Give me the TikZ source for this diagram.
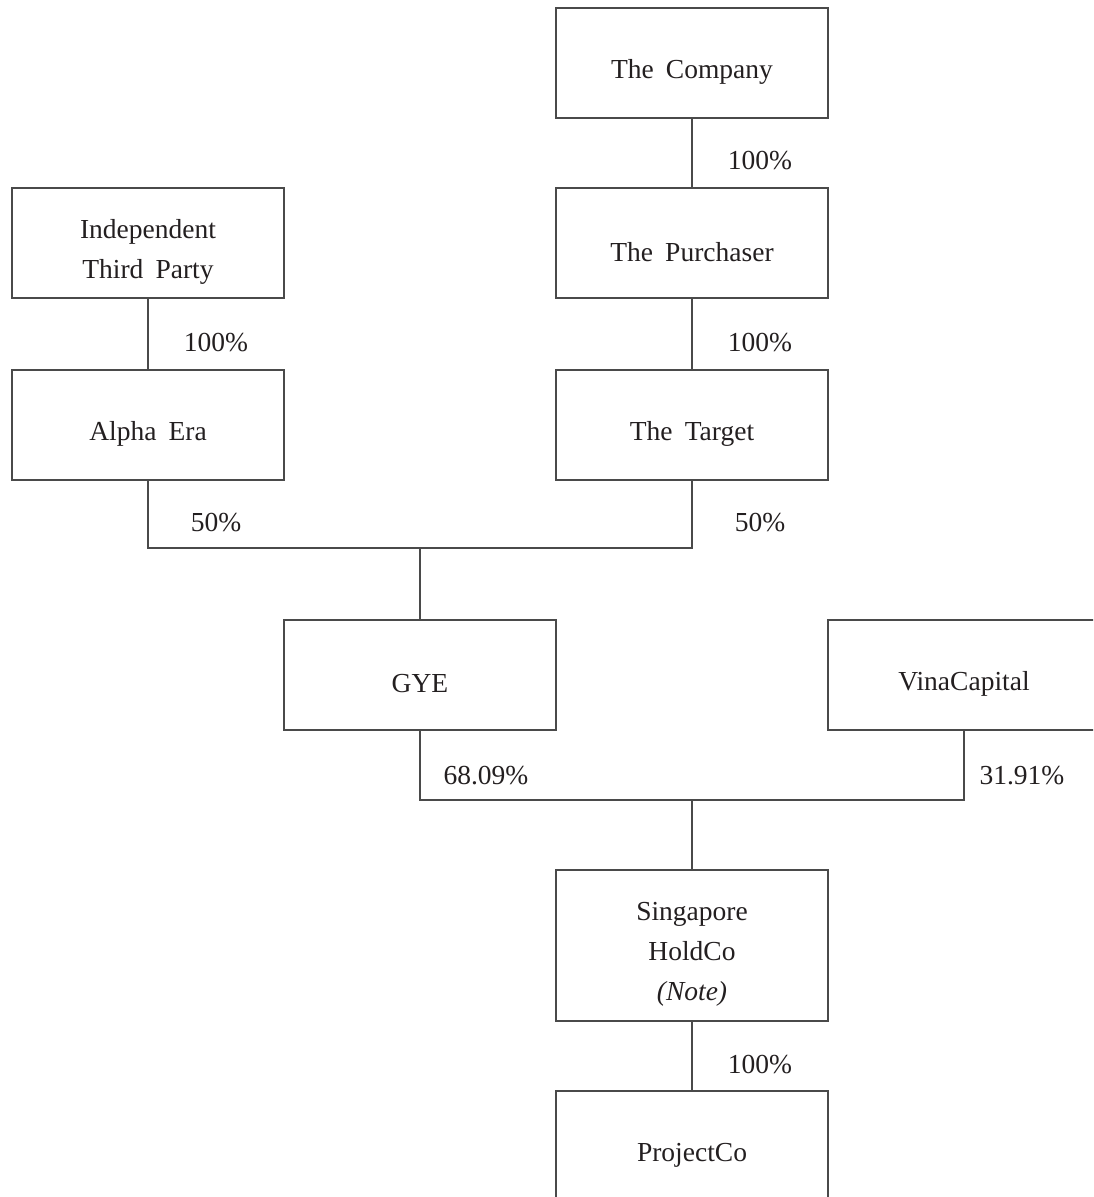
\documentclass[tikz,border=0pt]{standalone}
\usepackage{fontspec}
\setmainfont{Liberation Serif}
\definecolor{linec}{HTML}{4A4A4A}
\definecolor{textc}{HTML}{231F20}
\newcommand\entfont{\fontsize{27.5}{40}\selectfont}
\newcommand\widespaces{\spaceskip=0.44em plus 0.1em\relax}
\begin{document}
\begin{tikzpicture}[x=1pt,y=-1pt,
  entity/.style={draw=linec,line width=1.5pt,minimum width=272pt,minimum height=110pt,inner sep=0pt},
  etext/.style={inner sep=0pt,align=center,text=textc,yshift=-9pt,font=\entfont,execute at begin node=\widespaces},
  pct/.style={inner sep=0pt,text=textc,font=\fontsize{27.5}{33}\selectfont},
  link/.style={draw=linec,line width=1.5pt}]
\useasboundingbox (0,0) rectangle (1093,1197);
\clip (0,0) rectangle (1093,1197);
\node[entity] (company) at (692,63) {};
\node[entity] (purchaser) at (692,243) {};
\node[entity] (itp) at (148,243) {};
\node[entity] (alpha) at (148,425) {};
\node[entity] (target) at (692,425) {};
\node[entity] (gye) at (420,675) {};
\node[entity] (vina) at (964,675) {};
\node[entity,minimum height=151pt] (hold) at (692,945.5) {};
\node[entity] (project) at (692,1146) {};
\node[etext] (company-t) at (company.center) {The Company};
\node[etext] (purchaser-t) at (purchaser.center) {The Purchaser};
\node[etext] (itp-t) at (itp.center) {Independent\\Third Party};
\node[etext] (alpha-t) at (alpha.center) {Alpha Era};
\node[etext] (target-t) at (target.center) {The Target};
\node[etext] (gye-t) at (gye.center) {GYE};
\node[etext] (vina-t) at (vina.center) {VinaCapital};
\node[etext] (hold-t) at (hold.center) {Singapore\\HoldCo\\\textit{(Note)}};
\node[etext] (project-t) at (project.center) {ProjectCo};
\coordinate (j1) at (420,548);
\coordinate (j2) at (692,800);
\draw[link] (company) -- (purchaser);
\draw[link] (purchaser) -- (target);
\draw[link] (itp) -- (alpha);
\draw[link] (alpha.south) |- (j1) -| (target.south);
\draw[link] (gye.north) -- (j1);
\draw[link] (gye.south) |- (j2) -| (vina.south);
\draw[link] (hold.north) -- (j2);
\draw[link] (hold) -- (project);
\node[pct] (p1) at (760,161) {100\%};
\node[pct] (p2) at (216,343) {100\%};
\node[pct] (p3) at (760,343) {100\%};
\node[pct] (p4) at (216,523) {50\%};
\node[pct] (p5) at (760,523) {50\%};
\node[pct] (p6) at (486,776) {68.09\%};
\node[pct] (p7) at (1022,776) {31.91\%};
\node[pct] (p8) at (760,1065) {100\%};
\end{tikzpicture}
\end{document}
